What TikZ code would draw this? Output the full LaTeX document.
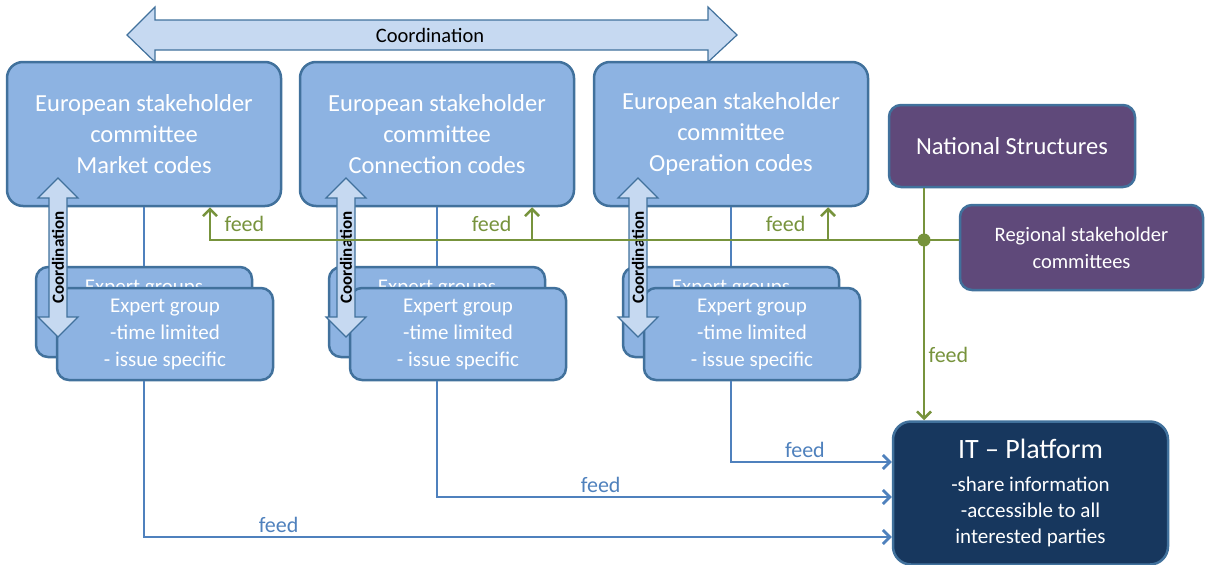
\documentclass[tikz,border=0pt]{standalone}
\usepackage{fontspec}
\setmainfont{Carlito}
\usetikzlibrary{arrows.meta}
\definecolor{boxblue}{HTML}{8DB3E2}
\definecolor{edgeblue}{HTML}{41719C}
\definecolor{paleblue}{HTML}{C6D9F1}
\definecolor{plum}{HTML}{5F497A}
\definecolor{navy}{HTML}{17375E}
\definecolor{leaf}{HTML}{77933C}
\definecolor{lineblue}{HTML}{4F81BD}

\begin{document}
\begin{tikzpicture}[x=1pt,y=-1pt,
  cbox/.style={draw=edgeblue,line width=2.5pt,fill=boxblue,rounded corners=16pt,minimum width=274pt,minimum height=144pt,align=center,text=white,font=\fontsize{24.5}{31}\selectfont},
  ebox/.style={draw=edgeblue,line width=2.5pt,fill=boxblue,rounded corners=12pt,minimum width=216pt,minimum height=92pt,align=center,text=white,font=\fontsize{21}{27}\selectfont},
  pbox/.style={draw=edgeblue,line width=2.5pt,fill=plum,rounded corners=12pt,align=center,text=white},
  coordarr/.style={draw=edgeblue,line width=1.2pt,fill=paleblue},
  bline/.style={draw=lineblue,line width=2.8pt},
  gline/.style={draw=leaf,line width=2.5pt},
  barb/.style={-{Straight Barb[length=7pt,width=14pt]}},
  feedb/.style={text=lineblue,font=\fontsize{22}{26}\selectfont},
  feedg/.style={text=leaf,font=\fontsize{22}{26}\selectfont}]
\useasboundingbox (0,0) rectangle (1205,565);

% Platform
\node[draw=edgeblue,line width=2.5pt,fill=navy,rounded corners=18pt,minimum width=275pt,minimum height=143pt,align=center,text=white,font=\fontsize{21}{26}\selectfont] (it) at (1030.5,493) {{\fontsize{28}{34}\selectfont IT -- Platform}\\[7pt]-share information\\-accessible to all\\interested parties};

% Top coordination arrow
\draw[coordarr] (127,35) -- (155,7) -- (155,20) -- (708,20) -- (708,7) -- (737,35) -- (708,62) -- (708,50) -- (155,50) -- (155,62) -- cycle;
\node[font=\fontsize{20.5}{24}\selectfont] (coord) at (430,35) {Coordination};

% Committees and expert groups
\foreach \n/\x/\cx/\t/\dy/\p in {1/144/58/Market codes/-44/0.59,2/437/346/Connection codes/-4/0.68,3/731/638/Operation codes/31/0.73}{
  \node[cbox] (c\n) at (\x,134) {European stakeholder\\committee\\\t};
  \node[ebox,minimum height=90pt,label={[text=white,font=\fontsize{21}{27}\selectfont,anchor=north,yshift=-11pt]north:Expert groups}] (eb\n) at (\x,312) {};
  \draw[bline] (c\n.south) -- (eb\n.north);
  \node[ebox] (e\n) at (\x+21,334) {Expert group\\-time limited\\- issue specific};
  \draw[bline,barb] (e\n.south -| eb\n.north) |- node[feedb,above,pos=\p]{feed} ([yshift=\dy pt]it.west);
  \draw[coordarr] (\cx,178) -- ++(20,20) -- ++(-11,0) -- ++(0,119) -- ++(11,0) -- ++(-20,20) -- ++(-20,-20) -- ++(11,0) -- ++(0,-119) -- ++(-11,0) -- cycle;
  \node[rotate=90,font=\bfseries\fontsize{17}{20}\selectfont] (v\n) at (\cx,257.5) {Coordination};
}

% National and regional structures
\node[pbox,minimum width=246pt,minimum height=82pt,font=\fontsize{24.5}{30}\selectfont] (nat) at (1012,146) {National Structures};
\node[pbox,minimum width=243pt,minimum height=85pt,font=\fontsize{20.5}{27}\selectfont] (reg) at (1081.5,247.5) {Regional stakeholder\\committees};

% Green feeds
\coordinate (j) at (924,240);
\coordinate (f1) at (210,240);
\coordinate (f2) at (532,240);
\coordinate (f3) at (828,240);
\draw[gline,barb] (reg.west |- j) -- (f1) -- node[feedg,right,xshift=10pt]{feed} (f1 |- c1.south);
\draw[gline,barb] (f2) -- node[feedg,left,xshift=-16pt]{feed} (f2 |- c2.south);
\draw[gline,barb] (f3) -- node[feedg,left,xshift=-18pt]{feed} (f3 |- c3.south);
\draw[gline] (nat.south -| j) -- (j);
\draw[gline,barb] (j) -- node[feedg,right,pos=0.64]{feed} (j |- it.north);
\fill[leaf] (j) circle (6.5pt);
\end{tikzpicture}
\end{document}
